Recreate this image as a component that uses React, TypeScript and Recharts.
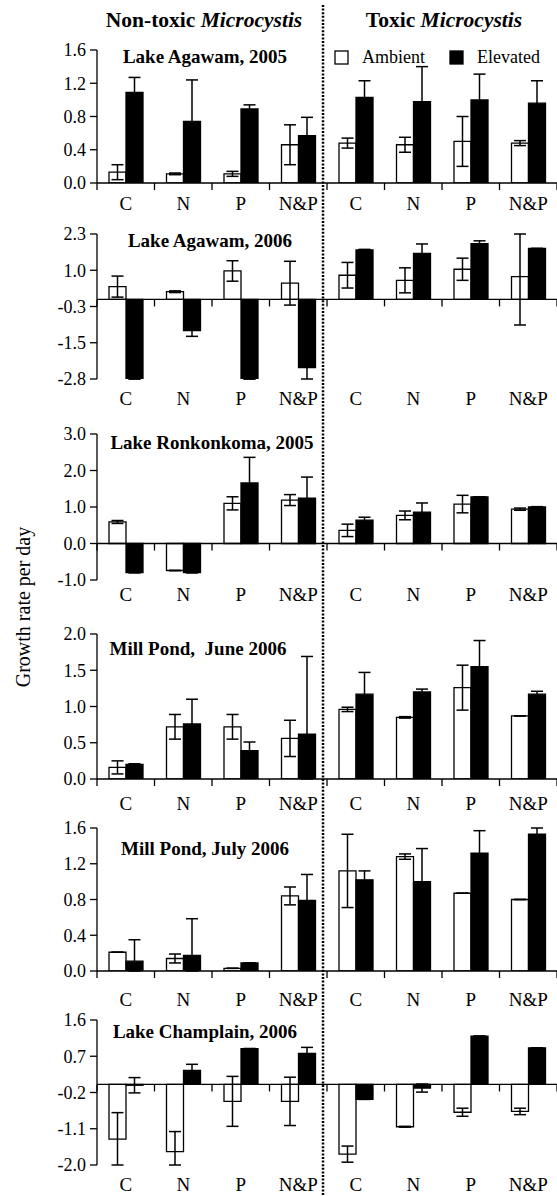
import { BarChart, Bar, XAxis, YAxis, ErrorBar, ReferenceLine, Legend } from 'recharts';

const SERIF = '"Liberation Serif", "Times New Roman", Times, serif';

const categories = ['C', 'N', 'P', 'N&P', 'C', 'N', 'P', 'N&P'];

const panelTitles = [
    'Lake Agawam, 2005',
    'Lake Agawam, 2006',
    'Lake Ronkonkoma, 2005',
    'Mill Pond,\u00a0 June 2006',
    'Mill Pond, July 2006',
    'Lake Champlain, 2006',
];

// Lake Agawam, 2005
const agawam05Ambient = [0.13, 0.11, 0.11, 0.46, 0.48, 0.46, 0.5, 0.48];
const agawam05AmbientErr = [0.09, 0.01, 0.03, 0.24, 0.06, 0.09, 0.3, 0.03];
const agawam05Elevated = [1.09, 0.74, 0.89, 0.57, 1.03, 0.98, 1.0, 0.96];
const agawam05ElevatedErr = [0.18, 0.5, 0.05, 0.22, 0.2, 0.42, 0.31, 0.27];

// Lake Agawam, 2006
const agawam06Ambient = [0.45, 0.27, 1.0, 0.57, 0.85, 0.67, 1.06, 0.8];
const agawam06AmbientErr = [0.37, 0.03, 0.36, 0.77, 0.45, 0.44, 0.39, 1.7];
const agawam06Elevated = [-2.8, -1.1, -2.8, -2.4, 1.74, 1.62, 1.96, 1.79];
const agawam06ElevatedErr = [0, 0.2, 0, 0.4, 0.02, 0.33, 0.1, 0];

// Lake Ronkonkoma, 2005
const ronkonkomaAmbient = [0.59, -0.74, 1.1, 1.19, 0.36, 0.77, 1.08, 0.94];
const ronkonkomaAmbientErr = [0.04, 0, 0.18, 0.15, 0.17, 0.12, 0.24, 0.03];
const ronkonkomaElevated = [-0.8, -0.8, 1.66, 1.24, 0.64, 0.86, 1.28, 1.0];
const ronkonkomaElevatedErr = [0, 0, 0.7, 0.58, 0.08, 0.25, 0, 0.01];

// Mill Pond, June 2006
const millJuneAmbient = [0.16, 0.72, 0.72, 0.56, 0.96, 0.85, 1.26, 0.87];
const millJuneAmbientErr = [0.09, 0.17, 0.17, 0.25, 0.03, 0.01, 0.31, 0];
const millJuneElevated = [0.2, 0.76, 0.39, 0.62, 1.17, 1.2, 1.55, 1.17];
const millJuneElevatedErr = [0.01, 0.34, 0.12, 1.07, 0.3, 0.04, 0.36, 0.04];

// Mill Pond, July 2006
const millJulyAmbient = [0.21, 0.14, 0.03, 0.84, 1.12, 1.28, 0.87, 0.8];
const millJulyAmbientErr = [0, 0.05, 0, 0.1, 0.41, 0.03, 0, 0];
const millJulyElevated = [0.11, 0.175, 0.09, 0.79, 1.02, 1.0, 1.32, 1.53];
const millJulyElevatedErr = [0.24, 0.41, 0, 0.29, 0.1, 0.37, 0.25, 0.09];

// Lake Champlain, 2006
const champlainAmbient = [-1.36, -1.67, -0.42, -0.42, -1.73, -1.05, -0.69, -0.67];
const champlainAmbientErr = [0.66, 0.5, 0.62, 0.6, 0.2, 0.01, 0.1, 0.08];
const champlainElevated = [-0.02, 0.35, 0.89, 0.77, -0.37, -0.09, 1.2, 0.91];
const champlainElevatedErr = [0.19, 0.15, 0, 0.15, 0, 0.1, 0, 0];

// y axis ticks and their printed labels, per panel
const yTicks = [
    [0, 0.4, 0.8, 1.2, 1.6],
    [-2.8, -1.525, -0.25, 1.025, 2.3],
    [-1, 0, 1, 2, 3],
    [0, 0.5, 1, 1.5, 2],
    [0, 0.4, 0.8, 1.2, 1.6],
    [-2, -1.1, -0.2, 0.7, 1.6],
];
const yTickLabels = [
    ['0.0', '0.4', '0.8', '1.2', '1.6'],
    ['-2.8', '-1.5', '-0.3', '1.0', '2.3'],
    ['-1.0', '0.0', '1.0', '2.0', '3.0'],
    ['0.0', '0.5', '1.0', '1.5', '2.0'],
    ['0.0', '0.4', '0.8', '1.2', '1.6'],
    ['-2.0', '-1.1', '-0.2', '0.7', '1.6'],
];

const series = [
    [agawam05Ambient, agawam05AmbientErr, agawam05Elevated, agawam05ElevatedErr],
    [agawam06Ambient, agawam06AmbientErr, agawam06Elevated, agawam06ElevatedErr],
    [ronkonkomaAmbient, ronkonkomaAmbientErr, ronkonkomaElevated, ronkonkomaElevatedErr],
    [millJuneAmbient, millJuneAmbientErr, millJuneElevated, millJuneElevatedErr],
    [millJulyAmbient, millJulyAmbientErr, millJulyElevated, millJulyElevatedErr],
    [champlainAmbient, champlainAmbientErr, champlainElevated, champlainElevatedErr],
];

// page layout of each panel (plot top / bottom in px, label baseline below plot, title anchor)
const layouts = [
    { top: 50, bottom: 183, labelGap: 27, titleX: 205, titleY: 63 },
    { top: 234, bottom: 379, labelGap: 26, titleX: 210, titleY: 247 },
    { top: 434, bottom: 580, labelGap: 21, titleX: 212, titleY: 449 },
    { top: 634, bottom: 779, labelGap: 31, titleX: 198, titleY: 655 },
    { top: 828, bottom: 971, labelGap: 35, titleX: 205, titleY: 855 },
    { top: 1020, bottom: 1165, labelGap: 26, titleX: 205, titleY: 1038 },
];

const ZeroAxis = (props: any) => {
    const { x1, x2, y1 } = props;
    const step = (x2 - x1) / categories.length;
    return (
        <g>
            <line x1={x1} y1={y1} x2={x2} y2={y1} stroke="#000" strokeWidth={1.3} />
            {Array.from({ length: categories.length + 1 }).map((_, i) => (
                <line key={i} x1={x1 + i * step} y1={y1} x2={x1 + i * step} y2={y1 + 7} stroke="#000" strokeWidth={1.3} />
            ))}
        </g>
    );
};

const renderLegend = (props: any) => {
    const { payload } = props;
    return (
        <div style={{ display: 'flex', alignItems: 'center', fontFamily: SERIF, fontSize: 18, color: '#000' }}>
            {(payload || []).map((entry: any) => (
                <div key={entry.value} style={{ display: 'flex', alignItems: 'center', width: 122 }}>
                    <svg width={15} height={15} style={{ marginRight: 13 }}>
                        <rect x={1} y={1} width={13} height={13} fill={entry.color} stroke="#000" strokeWidth={1.3} />
                    </svg>
                    <span>{entry.value}</span>
                </div>
            ))}
        </div>
    );
};

// error whiskers stop at the plot edges, like the clipped original
const clampErr = (v: number, e: number, lo: number, hi: number) => [
    Math.max(0, Math.min(e, v - lo)),
    Math.max(0, Math.min(e, hi - v)),
];

const textStyle = { fontFamily: SERIF };

function Panel({ index }: { index: number }) {
    const lay = layouts[index];
    const [amb, ambErr, ele, eleErr] = series[index];
    const ticks = yTicks[index];
    const labels = yTickLabels[index];
    const yMin = ticks[0];
    const yMax = ticks[ticks.length - 1];
    const data = categories.map((cat, i) => ({
        cat,
        amb: amb[i],
        ambErr: clampErr(amb[i], ambErr[i], yMin, yMax),
        ele: ele[i],
        eleErr: clampErr(ele[i], eleErr[i], yMin, yMax),
    }));
    const mt = 12;
    const axisH = 45;
    const plotH = lay.bottom - lay.top;

    const XTick = (p: any) => (
        <text x={p.x} y={p.y} dy={lay.labelGap} textAnchor="middle" fill="#000" fontSize={19} fontFamily={SERIF} style={textStyle}>
            {p.payload.value}
        </text>
    );
    const YTick = (p: any) => (
        <text x={p.x} y={p.y} dy="0.35em" textAnchor="end" fill="#000" fontSize={18} fontFamily={SERIF} style={textStyle}>
            {labels[ticks.indexOf(p.payload.value)] ?? String(p.payload.value)}
        </text>
    );

    return (
        <div style={{ position: 'absolute', left: 0, top: lay.top - mt }}>
            <BarChart
                width={557}
                height={mt + plotH + axisH}
                data={data}
                margin={{ top: mt, right: 0, bottom: 0, left: 37 }}
                barGap={0}
                barSize={17}
                style={textStyle}
            >
                <XAxis
                    dataKey="cat"
                    interval={0}
                    axisLine={false}
                    tickLine={false}
                    tickSize={0}
                    tickMargin={0}
                    height={axisH}
                    tick={XTick}
                />
                <YAxis
                    type="number"
                    domain={[yMin, yMax]}
                    ticks={ticks}
                    interval={0}
                    allowDataOverflow
                    width={60}
                    tickSize={7}
                    tickMargin={4}
                    axisLine={{ stroke: '#000', strokeWidth: 1.3 }}
                    tickLine={{ stroke: '#000', strokeWidth: 1.3 }}
                    tick={YTick}
                />
                <Bar dataKey="amb" name="Ambient" fill="#fff" stroke="#000" strokeWidth={1.3} isAnimationActive={false}>
                    <ErrorBar dataKey="ambErr" width={6} stroke="#000" strokeWidth={1.5} isAnimationActive={false} />
                </Bar>
                <Bar dataKey="ele" name="Elevated" fill="#000" stroke="#000" strokeWidth={1.3} isAnimationActive={false}>
                    <ErrorBar dataKey="eleErr" width={6} stroke="#000" strokeWidth={1.5} isAnimationActive={false} />
                </Bar>
                <ReferenceLine y={0} shape={ZeroAxis} />
                {index === 0 && (
                    <Legend
                        align="center"
                        verticalAlign="middle"
                        content={renderLegend}
                        wrapperStyle={{ top: 9, left: 334, width: 230 }}
                    />
                )}
            </BarChart>
        </div>
    );
}

export default function App() {
    return (
        <div style={{ position: 'absolute', left: 0, top: 0, width: 557, height: 1196, background: '#fff', fontFamily: SERIF }}>
            {layouts.map((_, i) => (
                <Panel key={i} index={i} />
            ))}
            <svg width={557} height={1196} style={{ position: 'absolute', left: 0, top: 0, pointerEvents: 'none' }}>
                <line x1={323} y1={5} x2={323} y2={1196} stroke="#000" strokeWidth={2.5} strokeDasharray="2 1.6" />
                <text x={204} y={27} textAnchor="middle" fontFamily={SERIF} fontSize={21.5} fontWeight="bold">
                    Non-toxic <tspan fontStyle="italic">Microcystis</tspan>
                </text>
                <text x={444} y={27} textAnchor="middle" fontFamily={SERIF} fontSize={21.5} fontWeight="bold">
                    Toxic <tspan fontStyle="italic">Microcystis</tspan>
                </text>
                {layouts.map((lay, i) => (
                    <text key={i} x={lay.titleX} y={lay.titleY} textAnchor="middle" fontFamily={SERIF} fontSize={19} fontWeight="bold">
                        {panelTitles[i]}
                    </text>
                ))}
                <text x={30} y={607} transform="rotate(-90 30 607)" textAnchor="middle" fontFamily={SERIF} fontSize={20}>
                    Growth rate per day
                </text>
            </svg>
        </div>
    );
}
